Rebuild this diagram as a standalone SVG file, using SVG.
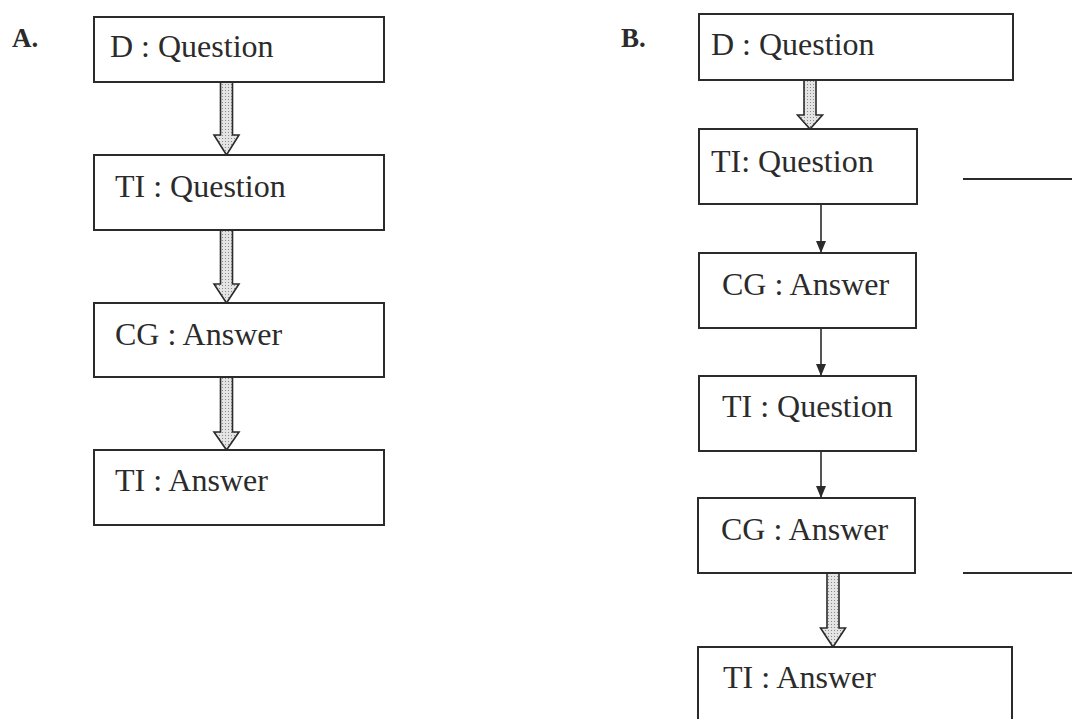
<svg xmlns="http://www.w3.org/2000/svg" width="1072" height="719" viewBox="0 0 1072 719">
<style>
.box{fill:#fff;stroke:#2b2b2b;stroke-width:2}
.t{font-family:"Liberation Serif","Times New Roman",serif;font-size:32px;fill:#2b2b2b}
.lbl{font-family:"Liberation Serif","Times New Roman",serif;font-size:27px;font-weight:bold;fill:#2b2b2b}
.fat{fill:url(#dots);stroke:#2b2b2b;stroke-width:1.6;stroke-linejoin:miter}
.thin{stroke:#2b2b2b;stroke-width:1.6;fill:none}
.line{stroke:#2b2b2b;stroke-width:2}
</style>
<defs>
<pattern id="dots" width="3" height="3" patternUnits="userSpaceOnUse">
<rect width="3" height="3" fill="#e4e4e4"/>
<rect width="1" height="1" fill="#8a8a8a"/>
</pattern>
<marker id="ah" viewBox="0 0 12 10" refX="12" refY="5" markerWidth="12" markerHeight="10" markerUnits="userSpaceOnUse" orient="auto">
<path d="M0,0 L12,5 L0,10 Z" fill="#2b2b2b"/>
</marker>
</defs>
<rect width="1072" height="719" fill="#fff"/>
<text class="lbl" x="12" y="47">A.</text>
<text class="lbl" x="621" y="47">B.</text>
<g id="connectors">
<path class="fat" d="M220.5,82 L232.5,82 L232.5,135 L239,135 L226.5,155 L214,135 L220.5,135 Z"/>
<path class="fat" d="M220.5,230 L232.5,230 L232.5,284 L239,284 L226.5,303 L214,284 L220.5,284 Z"/>
<path class="fat" d="M220.5,377 L232.5,377 L232.5,432 L239,432 L226.5,450 L214,432 L220.5,432 Z"/>
<path class="fat" d="M804,80 L816,80 L816,115 L822.5,115 L810,129 L797.5,115 L804,115 Z"/>
<path class="fat" d="M827,573 L839,573 L839,628 L845.5,628 L833,647 L820.5,628 L827,628 Z"/>
<path class="thin" d="M821,204 L821,253" marker-end="url(#ah)"/>
<path class="thin" d="M821,328 L821,376" marker-end="url(#ah)"/>
<path class="thin" d="M821,451 L821,498" marker-end="url(#ah)"/>
<line class="line" x1="963" y1="179" x2="1072" y2="179"/>
<line class="line" x1="963" y1="573" x2="1072" y2="573"/>
</g>
<g id="a1"><rect class="box" x="94" y="17" width="290" height="65"/><text class="t" x="110" y="57">D : Question</text></g>
<g id="a2"><rect class="box" x="94" y="155" width="290" height="75"/><text class="t" x="115" y="197">TI : Question</text></g>
<g id="a3"><rect class="box" x="94" y="303" width="290" height="74"/><text class="t" x="115" y="345">CG : Answer</text></g>
<g id="a4"><rect class="box" x="94" y="450" width="290" height="75"/><text class="t" x="115" y="491">TI : Answer</text></g>
<g id="b1"><rect class="box" x="699" y="14" width="314" height="66"/><text class="t" x="711" y="55">D : Question</text></g>
<g id="b2"><rect class="box" x="699" y="129" width="218" height="75"/><text class="t" x="711" y="172">TI: Question</text></g>
<g id="b3"><rect class="box" x="699" y="253" width="217" height="75"/><text class="t" x="722" y="295">CG : Answer</text></g>
<g id="b4"><rect class="box" x="699" y="376" width="217" height="75"/><text class="t" x="722" y="417">TI : Question</text></g>
<g id="b5"><rect class="box" x="698" y="498" width="217" height="75"/><text class="t" x="721" y="540">CG : Answer</text></g>
<g id="b6"><rect class="box" x="698" y="647" width="314" height="90"/><text class="t" x="723" y="688">TI : Answer</text></g>
</svg>
